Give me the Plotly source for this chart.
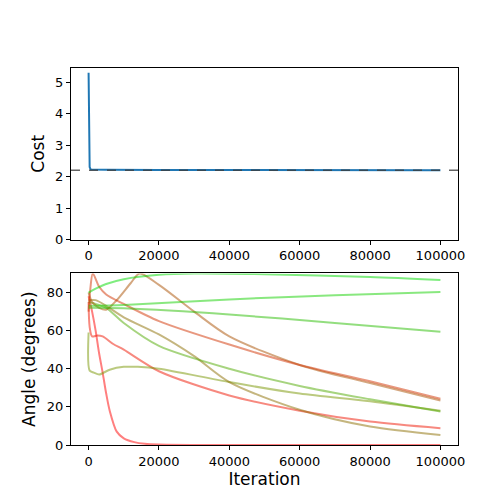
import plotly.graph_objects as go
from plotly.subplots import make_subplots

cost_x = [0, 150, 300, 600, 2000, 5000, 20000, 50000, 100000]
cost_y = [5.3, 3.0, 2.3, 2.225, 2.22, 2.215, 2.21, 2.205, 2.2]
cost_ref = 2.2

curves = [
    ("rgba(255,0,0,0.5)", [0,1000,2000,3000,4000,5000,6000,8000,10000,13000,16000,20000,30000,100000],
     [78,70,60,48,38,27,18,7,3.5,1.5,0.6,0.2,0,0]),
    ("rgba(240,20,0,0.5)", [0,300,1000,2500,4000,7000,10000,20000,40000,60000,80000,100000],
     [75,62,57,57.5,57,53,50,38.7,26,18,12.3,8.8]),
    ("rgba(120,150,0,0.5)", [0,300,1500,3000,6000,10000,14000,20000,40000,60000,80000,100000],
     [59,39,38,37,39.5,41,41,40,33,27,23,18]),
    ("rgba(140,110,0,0.5)", [0,2000,5000,10000,20000,30000,40000,60000,80000,100000],
     [76,76,73,67,58,46.6,33,18.5,9.7,5.3]),
    ("rgba(80,170,0,0.5)", [0,2000,5000,10000,20000,40000,60000,80000,100000],
     [75,74,72,64,52,40,31,24,17.6]),
    ("rgba(170,80,0,0.5)", [0,1000,3000,5000,8000,12000,14500,20000,30000,40000,60000,80000,100000],
     [80,75,72,71,76,85,90,84,70,57,42,32.5,23.4]),
    ("rgba(210,50,0,0.5)", [0,500,1200,3000,5000,10000,20000,40000,60000,80000,100000],
     [70,82,90,83,79,74,65,52.7,42,33.4,24.3]),
    ("rgba(0,220,0,0.5)", [0,2000,5000,10000,20000,30000,50000,80000,100000],
     [80,82,84.5,87,89.3,90,89.6,88.2,86.6]),
    ("rgba(20,210,0,0.5)", [0,10000,40000,70000,100000],
     [73,73.5,76.4,78.6,80.3]),
    ("rgba(40,190,0,0.5)", [0,10000,40000,70000,100000],
     [72,71.7,68.5,64,59.4]),
]

fig = make_subplots(rows=2, cols=1, vertical_spacing=0.09)
fig.add_trace(go.Scatter(x=cost_x, y=cost_y, mode="lines",
                         line=dict(color="#1f77b4", width=2)), row=1, col=1)
fig.add_trace(go.Scatter(x=[-5000, 105000], y=[cost_ref, cost_ref], mode="lines",
                         line=dict(color="rgba(60,60,60,0.8)", width=1.5, dash="dash")), row=1, col=1)
for c, xs, ys in curves:
    fig.add_trace(go.Scatter(x=xs, y=ys, mode="lines",
                             line=dict(color=c, width=2, shape="spline", smoothing=0.8)), row=2, col=1)

ax = dict(showgrid=False, zeroline=False, showline=True, linecolor="black", mirror=True,
          ticks="outside", ticklen=4, tickcolor="black", tickfont=dict(size=13, color="black"),
          automargin=False)
fig.update_xaxes(**ax, range=[-5000, 105000], tickvals=[0,20000,40000,60000,80000,100000],
                 tickformat="d")
fig.update_yaxes(**ax)
fig.update_yaxes(range=[0, 5.45], tickvals=[0,1,2,3,4,5], row=1, col=1,
                 title=dict(text="Cost", font=dict(size=17, color="black"), standoff=6))
fig.update_yaxes(range=[0, 90], tickvals=[0,20,40,60,80], row=2, col=1,
                 title=dict(text="Angle (degrees)", font=dict(size=17, color="black"), standoff=6))
fig.update_xaxes(title=dict(text="Iteration", font=dict(size=17, color="black"), standoff=4), row=2, col=1)
fig.update_layout(width=500, height=500, showlegend=False, plot_bgcolor="white",
                  paper_bgcolor="white", margin=dict(l=63, r=50, t=60, b=63),
                  font=dict(family="DejaVu Sans"))
fig.write_html("out.html")
